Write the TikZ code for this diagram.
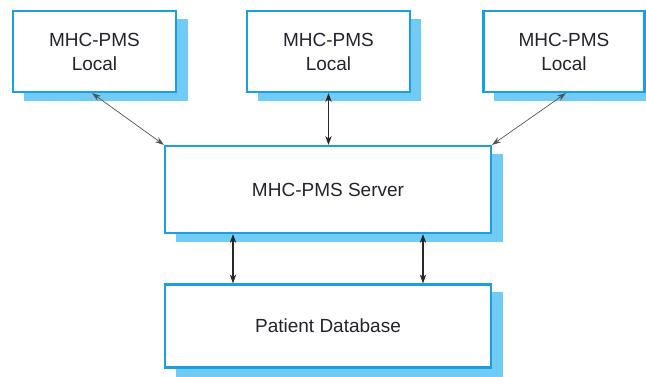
\documentclass[tikz,border=0pt]{standalone}
\usepackage{fontspec}
\setmainfont{Liberation Sans}
\usetikzlibrary{arrows.meta}
\definecolor{boxline}{RGB}{25,160,228}
\definecolor{boxshadow}{RGB}{112,204,245}
\definecolor{txt}{RGB}{35,35,45}
\definecolor{conn}{RGB}{40,40,40}
\tikzset{
  sysbox/.style={draw=boxline, line width=2.2pt, fill=white, inner sep=0pt, align=center,
    text=txt, font=\fontsize{19}{24}\selectfont},
  link/.style={draw=conn, line width=1.2pt, {Stealth[length=9pt,width=6.5pt]}-{Stealth[length=9pt,width=6.5pt]}},
  thinlink/.style={draw=conn!80, line width=0.7pt, {Stealth[length=9pt,width=6pt]}-{Stealth[length=9pt,width=6pt]}}
}
\begin{document}
\begin{tikzpicture}[x=1pt,y=-1pt]
\useasboundingbox (0,0) rectangle (646,376);
% shadows
\fill[boxshadow] (24,19) rectangle (188,101);
\fill[boxshadow] (258,19) rectangle (421,101);
\fill[boxshadow] (494,19) rectangle (656,101);
\fill[boxshadow] (176,154) rectangle (503,242);
\fill[boxshadow] (176,292) rectangle (503,380);
% boxes
\node[sysbox, minimum width=163pt, minimum height=81pt] (l1) at (94.5,51.5) {MHC-PMS\\Local};
\node[sysbox, minimum width=163pt, minimum height=81pt] (l2) at (328.5,51.5) {MHC-PMS\\Local};
\node[sysbox, minimum width=161pt, minimum height=81pt] (l3) at (564,51.5) {MHC-PMS\\Local};
\node[sysbox, minimum width=326pt, minimum height=87pt] (srv) at (328,189.5) {MHC-PMS Server};
\node[sysbox, minimum width=326pt, minimum height=83pt] (db) at (328,326) {Patient Database};
% connectors
\coordinate (a1) at (92,93);
\coordinate (b1) at (164,145);
\draw[thinlink] (l1.south -| a1) -- (srv.north -| b1);
\draw[link] (l2.south) -- (srv.north -| l2.south);
\coordinate (a3) at (566,93);
\coordinate (b3) at (492,145);
\draw[thinlink] (l3.south -| a3) -- (srv.north -| b3);
\coordinate (c1) at (233,0);
\coordinate (c2) at (423,0);
\draw[link] (srv.south -| c1) -- (db.north -| c1);
\draw[link] (srv.south -| c2) -- (db.north -| c2);
\end{tikzpicture}
\end{document}
